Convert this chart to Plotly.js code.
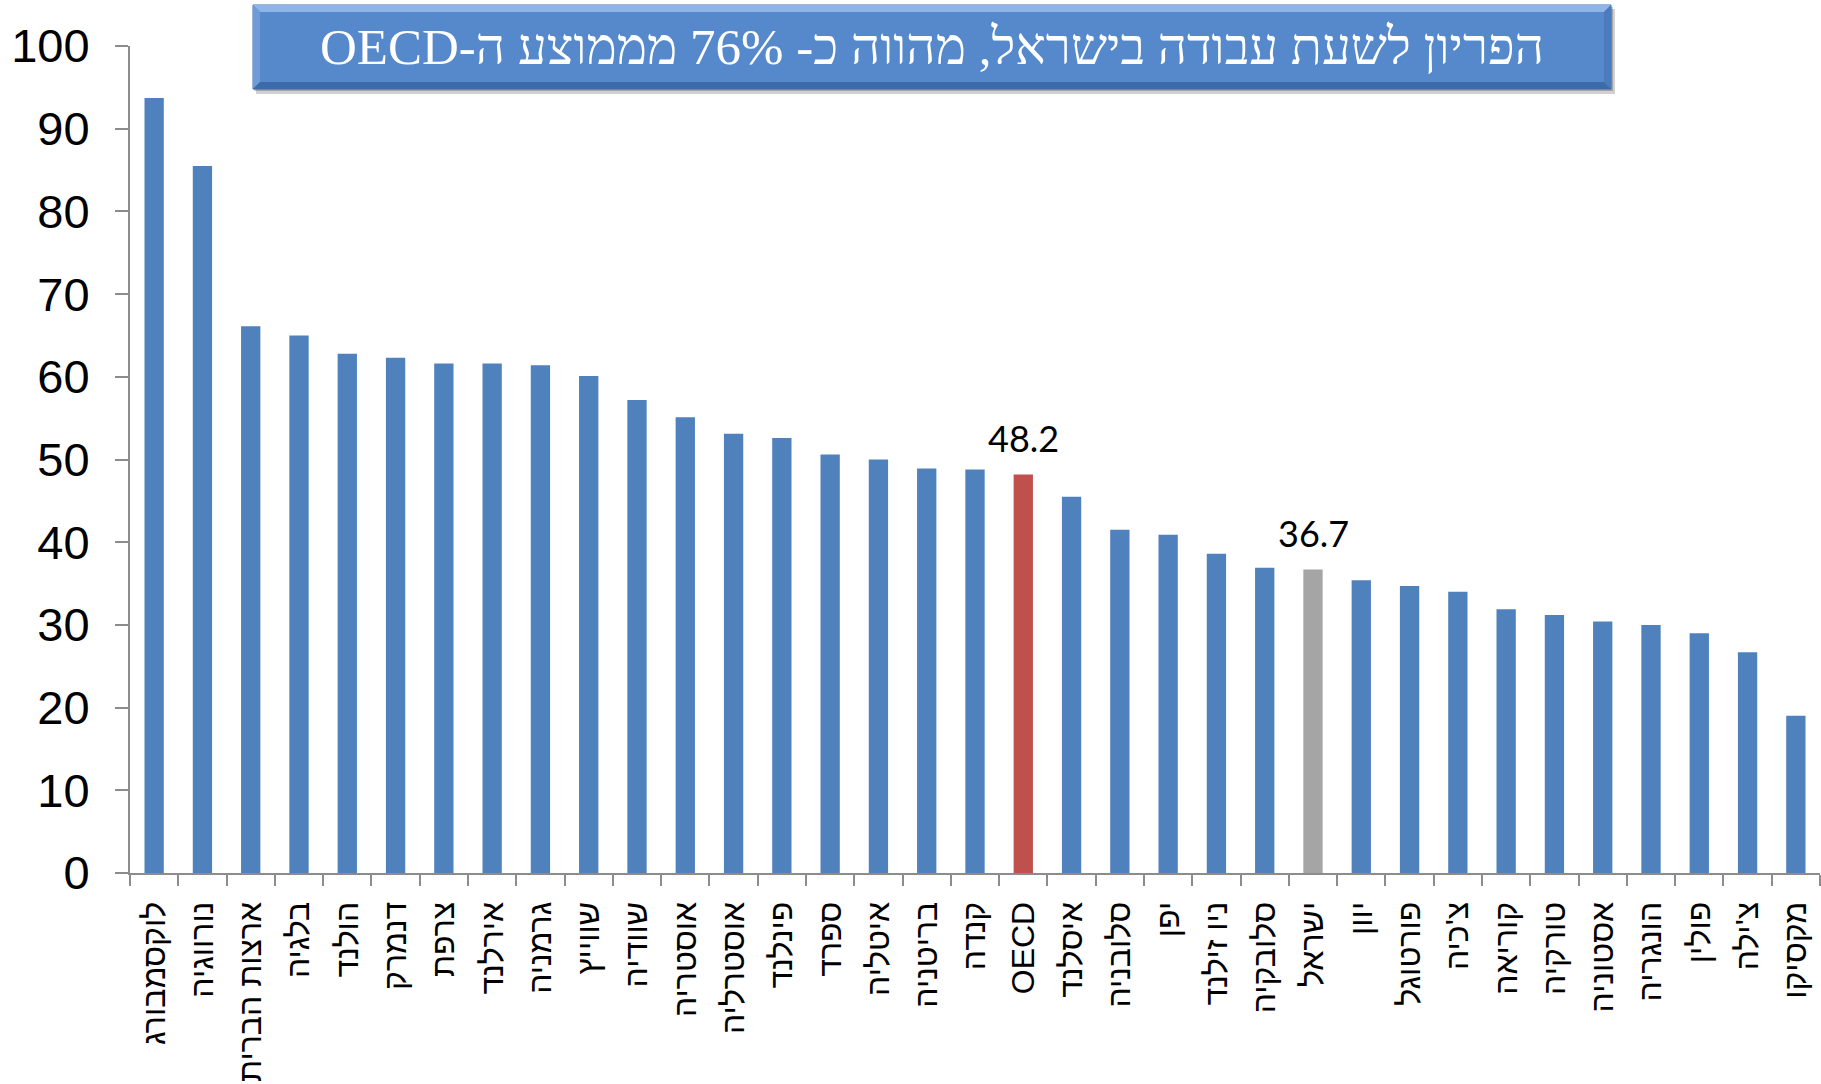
<!DOCTYPE html>
<html>
<head>
<meta charset="utf-8">
<script src="https://cdn.plot.ly/plotly-3.0.1.min.js"></script>
<style>
html,body{margin:0;padding:0;background:#fff;}
#chart{width:1821px;height:1084px;}
</style>
</head>
<body>
<div id="chart"></div>
<script>
// ---- data ----
const countries = ["לוקסמבורג","נורווגיה","ארצות הברית","בלגיה","הולנד","דנמרק","צרפת","אירלנד","גרמניה","שווייץ","שוודיה","אוסטריה","אוסטרליה","פינלנד","ספרד","איטליה","בריטניה","קנדה","OECD","איסלנד","סלובניה","יפן","ניו זילנד","סלובקיה","ישראל","יוון","פורטוגל","צ'כיה","קוריאה","טורקיה","אסטוניה","הונגריה","פולין","צ'ילה","מקסיקו"];
const productivity = [93.7,85.5,66.1,65.0,62.8,62.3,61.6,61.6,61.4,60.1,57.2,55.1,53.1,52.6,50.6,50.0,48.9,48.8,48.2,45.5,41.5,40.9,38.6,36.9,36.7,35.4,34.7,34.0,31.9,31.2,30.4,30.0,29.0,26.7,19.0];
const highlighted = ["OECD","ישראל"];
const highlightLabels = ["48.2","36.7"];
const chartTitle = "הפריון לשעת עבודה בישראל, מהווה כ- 76% מממוצע ה-OECD";
const yTicks = [0,10,20,30,40,50,60,70,80,90,100];

// ---- styles ----
const BLUE = "#4f81bd", RED = "#c0504d", GRAY = "#a5a5a5";
const barColors = countries.map(c => c === "OECD" ? RED : (c === "ישראל" ? GRAY : BLUE));

// plot area in pixels (for title box placement)
const W = 1821, H = 1084;
const M = {l:130, r:1, t:46, b:211};
const PW = W - M.l - M.r, PH = H - M.t - M.b;
const px = x => (x - M.l) / PW;
const py = y => (H - M.b - y) / PH;

// title box geometry (pixels)
const bx0 = 253, bx1 = 1611, by0 = 5, by1 = 89, bev = 7;
function poly(pts){
  return "M" + pts.map(p => px(p[0]).toFixed(5) + "," + py(p[1]).toFixed(5)).join(" L") + " Z";
}
const shapes = [
  // shadow
  {type:"rect", xref:"paper", yref:"paper", x0:px(bx0+3), x1:px(bx1+4), y0:py(by1+5), y1:py(by0+4), fillcolor:"rgba(0,0,0,0.18)", line:{width:0}, layer:"above"},
  {type:"rect", xref:"paper", yref:"paper", x0:px(bx0+1), x1:px(bx1+2), y0:py(by1+2), y1:py(by0+2), fillcolor:"rgba(0,0,0,0.22)", line:{width:0}, layer:"above"},
  // main body
  {type:"rect", xref:"paper", yref:"paper", x0:px(bx0), x1:px(bx1), y0:py(by1), y1:py(by0), fillcolor:"#5589cc", line:{color:"#3f6fae", width:1}, layer:"above"},
  // bevels
  {type:"path", xref:"paper", yref:"paper", path:poly([[bx0,by0],[bx1,by0],[bx1-bev,by0+bev],[bx0+bev,by0+bev]]), fillcolor:"#8fb5e6", line:{width:0}, layer:"above"},
  {type:"path", xref:"paper", yref:"paper", path:poly([[bx0,by0],[bx0+bev,by0+bev],[bx0+bev,by1-bev],[bx0,by1]]), fillcolor:"#6f9bd6", line:{width:0}, layer:"above"},
  {type:"path", xref:"paper", yref:"paper", path:poly([[bx1,by0],[bx1,by1],[bx1-bev,by1-bev],[bx1-bev,by0+bev]]), fillcolor:"#4a7bbd", line:{width:0}, layer:"above"},
  {type:"path", xref:"paper", yref:"paper", path:poly([[bx0,by1],[bx0+bev,by1-bev],[bx1-bev,by1-bev],[bx1,by1]]), fillcolor:"#3d6aa8", line:{width:0}, layer:"above"}
];

const annotations = highlighted.map((c, k) => ({
  x: c, y: productivity[countries.indexOf(c)], xref:"x", yref:"y",
  text: highlightLabels[k], showarrow:false, yanchor:"bottom", yshift:12,
  font:{family:"Lato, 'Open Sans', sans-serif", size:36, color:"#000"}
}));
// right-to-left embedding so the Latin run lands on the left as in Hebrew text
annotations.push({
  xref:"paper", yref:"paper", x:px((bx0+bx1)/2), y:py((by0+by1)/2), xanchor:"center", yanchor:"middle",
  text: "\u202B" + chartTitle + "\u202C", showarrow:false,
  font:{family:"'Liberation Serif', 'Times New Roman', serif", size:51, color:"#ffffff"}
});

const trace = {
  type:"bar", x:countries, y:productivity,
  marker:{color:barColors, line:{width:0}},
  hoverinfo:"x+y"
};

const layout = {
  width:W, height:H,
  margin:{l:M.l, r:M.r, t:M.t, b:M.b, pad:0},
  paper_bgcolor:"#fff", plot_bgcolor:"#fff",
  bargap:0.6,
  showlegend:false,
  font:{family:"'Liberation Sans', Arial, 'DejaVu Sans', sans-serif", color:"#000"},
  xaxis:{
    type:"category", showgrid:false, zeroline:false,
    showline:true, linecolor:"#8c8c8c", linewidth:2,
    ticks:"outside", tickson:"boundaries", ticklen:11, tickcolor:"#8c8c8c", tickwidth:2,
    tickangle:-90, ticklabelstandoff:14,
    tickfont:{family:"'Liberation Sans', Arial, 'DejaVu Sans', sans-serif", size:32, color:"#000"}
  },
  yaxis:{
    range:[0,100], tickvals:yTicks, showgrid:false, zeroline:false,
    showline:true, linecolor:"#8c8c8c", linewidth:2,
    ticks:"outside", ticklen:13, tickcolor:"#8c8c8c", tickwidth:2,
    ticklabelstandoff:16,
    tickfont:{family:"'Liberation Sans', Arial, sans-serif", size:47, color:"#000"}
  },
  shapes:shapes,
  annotations:annotations
};

Plotly.newPlot("chart", [trace], layout, {displayModeBar:false, staticPlot:true});
</script>
</body>
</html>
